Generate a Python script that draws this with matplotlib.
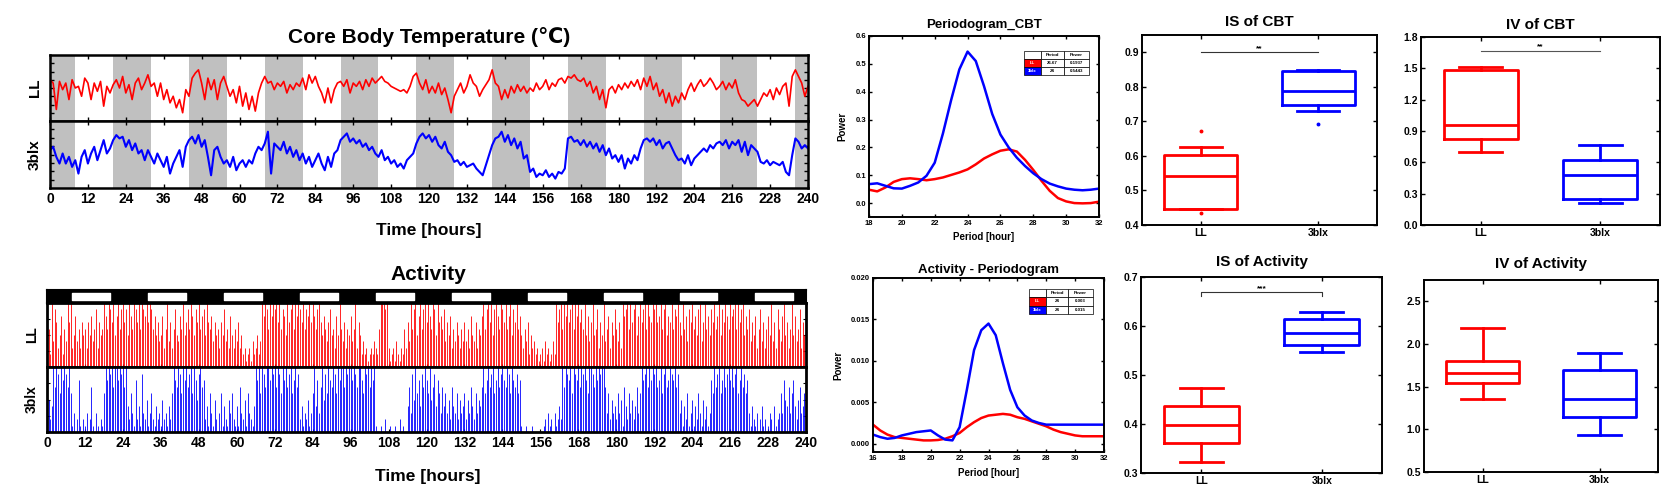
import numpy as np
import matplotlib
matplotlib.use("Agg")
import matplotlib.pyplot as plt

plt.rcParams["font.family"] = ["Liberation Sans", "DejaVu Sans"]
plt.rcParams["font.weight"] = "bold"
plt.rcParams["axes.labelweight"] = "bold"

W, H = 1668, 488
RED = "#ff0000"
BLUE = "#0000ff"
GRAY = "#c0c0c0"

# ---------------- data ----------------
# dark (grey) phases and light phases, hours
dark_start = [0, 20, 44, 68, 92, 116, 140, 164, 188, 212, 236]
dark_end = [8, 32, 56, 80, 104, 128, 152, 176, 200, 224, 240]
light_start = [8, 32, 56, 80, 104, 128, 152, 176, 200, 224]
light_end = [20, 44, 68, 92, 116, 140, 164, 188, 212, 236]

# core body temperature, hourly, deg C
cbt_ll = [
    37.25, 37.15, 36.35, 37.20, 36.95, 37.15, 36.65, 37.25, 37.00, 37.05, 36.75, 37.30,
    37.15, 36.65, 37.15, 36.90, 37.20, 36.45, 37.05, 36.85, 37.10, 37.25, 37.00, 37.35,
    36.85, 37.10, 36.65, 37.15, 37.30, 36.95, 37.15, 37.40, 37.05, 37.15, 36.75, 37.15,
    36.65, 36.95, 36.55, 36.75, 36.40, 36.65, 36.25, 36.95, 36.75, 37.30, 37.45, 37.55,
    37.15, 36.65, 37.30, 36.95, 37.25, 36.65, 37.15, 37.35, 37.05, 36.75, 36.95, 36.55,
    37.05, 36.45, 36.85, 36.35, 36.75, 36.30, 36.85, 37.15, 37.35, 37.15, 37.20, 36.95,
    37.15, 37.05, 37.20, 36.85, 37.10, 36.95, 37.15, 37.05, 37.30, 36.95, 37.40, 37.15,
    37.35, 37.05, 36.85, 36.55, 37.00, 36.55, 36.95, 37.15, 37.20, 37.05, 37.25, 36.85,
    37.15, 37.05, 37.20, 36.95, 37.25, 37.05, 37.30, 37.15, 37.25, 37.35, 37.20, 37.15,
    37.05, 37.00, 36.95, 36.90, 36.95, 36.85, 37.05, 37.35, 37.45, 37.15, 36.95, 37.25,
    36.85, 37.05, 36.85, 37.15, 36.80, 37.00, 36.65, 36.25, 36.75, 36.95, 37.15, 36.85,
    37.05, 37.40, 37.15, 37.05, 36.75, 36.95, 37.10, 37.25, 37.55, 37.15, 37.05, 36.65,
    36.95, 36.70, 37.05, 36.85, 37.10, 36.90, 37.05, 36.85, 37.00, 36.90, 37.15, 36.95,
    37.05, 37.25, 36.95, 37.15, 37.05, 37.25, 37.30, 37.15, 37.35, 37.30, 37.40, 37.25,
    37.20, 37.30, 37.05, 37.20, 36.85, 37.05, 36.65, 36.95, 36.40, 36.95, 37.05, 36.85,
    37.10, 36.95, 37.15, 37.00, 37.20, 37.05, 37.25, 36.95, 37.30, 37.05, 37.35, 36.95,
    37.15, 36.75, 36.95, 36.55, 36.85, 36.45, 36.75, 36.55, 36.85, 36.65, 36.95, 37.15,
    36.90, 37.10, 37.25, 37.05, 37.15, 37.30, 37.15, 36.95, 37.05, 37.20, 36.95, 37.15,
    37.00, 37.25, 36.85, 36.65, 36.60, 36.45, 36.55, 36.65, 36.45, 36.65, 36.85, 36.75,
    36.95, 36.65, 37.00, 36.80, 37.05, 37.15, 36.45, 37.35, 37.55, 37.35, 37.15, 36.75,
    37.05,
]
cbt_3blx = [
    37.13, 37.23, 36.93, 36.73, 37.03, 36.73, 36.93, 36.63, 36.83, 36.43, 36.93, 37.13,
    36.73, 37.03, 37.23, 36.83, 37.13, 37.43, 37.03, 37.18, 37.43, 37.58, 37.48, 37.53,
    37.23, 37.43, 37.13, 37.33, 37.03, 37.13, 36.83, 37.13, 36.93, 36.73, 37.03, 36.83,
    36.63, 36.93, 36.43, 36.73, 36.93, 37.13, 36.63, 37.23, 37.43, 37.53, 37.33, 37.58,
    37.23, 37.43, 36.93, 36.38, 37.13, 37.23, 36.93, 36.73, 36.83, 36.63, 36.93, 36.53,
    36.73, 36.83, 36.63, 36.83, 36.73, 37.03, 37.23, 37.13, 37.33, 37.68, 36.43, 37.33,
    37.23, 37.13, 37.38, 37.03, 37.23, 36.93, 37.13, 36.83, 37.03, 36.73, 36.93, 36.63,
    36.83, 37.03, 36.73, 36.53, 36.93, 36.63, 37.03, 37.13, 37.43, 37.53, 37.63, 37.38,
    37.48, 37.33, 37.43, 37.23, 37.33, 37.13, 37.23, 37.03, 36.93, 37.13, 36.83, 36.93,
    36.73, 36.83, 36.63, 36.73, 36.58, 36.83, 36.93, 37.03, 37.33, 37.53, 37.63, 37.48,
    37.58, 37.38, 37.53, 37.28, 37.18, 37.38, 37.08, 36.98, 36.78, 36.83, 36.68, 36.78,
    36.63, 36.68, 36.73, 36.58, 36.48, 36.38, 36.68, 36.98, 37.28, 37.48, 37.53, 37.68,
    37.38, 37.58, 37.28, 37.48, 37.18, 37.38, 36.88, 36.98, 36.48, 36.58, 36.33, 36.43,
    36.38, 36.53, 36.33, 36.43, 36.28, 36.48, 36.43, 36.58, 37.48, 37.53, 37.38, 37.43,
    37.28, 37.43, 37.23, 37.38, 37.18, 37.33, 37.08, 37.28, 36.98, 37.18, 36.88, 36.98,
    36.78, 36.98, 36.58, 36.88, 36.73, 36.98, 36.83, 37.18, 37.43, 37.48, 37.38, 37.48,
    37.28, 37.43, 37.18, 37.33, 37.38, 37.18, 36.98, 36.83, 36.88, 36.73, 36.98, 36.68,
    36.88, 36.98, 37.08, 37.18, 37.08, 37.28, 37.18, 37.33, 37.38, 37.28, 37.43, 37.18,
    37.38, 37.28, 37.43, 37.08, 37.38, 36.98, 37.28, 37.18, 37.08, 36.78, 36.73, 36.83,
    36.68, 36.78, 36.73, 36.68, 36.78, 36.48, 36.38, 36.98, 37.48, 37.38, 37.18, 37.28,
    37.18,
]

# activity counts per 30 min (percent of panel maximum)
act_ll = [
    30, 60, 20, 100, 40, 90, 70, 30, 50, 80, 20, 60, 40, 100, 70, 100, 30, 50, 80, 40, 60, 30, 70, 50,
    60, 30, 70, 50, 80, 40, 60, 90, 30, 70, 50, 60, 100, 80, 60, 100, 90, 70, 100, 50, 80, 100, 60, 90,
    100, 70, 90, 50, 100, 80, 60, 100, 90, 70, 100, 60, 100, 90, 80, 100, 70, 100, 90, 60, 80, 50, 70, 40,
    50, 80, 30, 60, 100, 40, 70, 30, 60, 90, 50, 40, 80, 60, 100, 50, 70, 90, 60, 100, 80, 50, 90, 70,
    100, 60, 80, 90, 50, 100, 70, 60, 80, 40, 70, 50, 60, 30, 70, 50, 90, 40, 60, 30, 80, 50, 30, 60,
    40, 70, 30, 50, 20, 30, 10, 20, 30, 10, 40, 20, 30, 50, 20, 40, 100, 80, 100, 90, 60, 100, 80, 100,
    90, 100, 70, 100, 60, 90, 80, 50, 100, 70, 90, 100, 60, 100, 80, 100, 90, 70, 100, 60, 90, 80, 100, 70,
    100, 80, 60, 90, 100, 70, 50, 80, 60, 40, 70, 90, 50, 60, 30, 80, 50, 100, 60, 40, 70, 30, 60, 50,
    80, 40, 60, 100, 30, 70, 50, 20, 40, 20, 30, 10, 20, 30, 20, 40, 30, 20, 60, 100, 100, 100, 90, 100,
    30, 10, 20, 30, 10, 40, 20, 10, 30, 20, 60, 30, 70, 40, 100, 60, 90, 100, 50, 80, 100, 60, 90, 100,
    70, 100, 80, 60, 100, 90, 50, 100, 70, 80, 60, 90, 40, 70, 50, 80, 30, 60, 40, 70, 50, 30, 60, 40,
    70, 40, 60, 30, 80, 50, 40, 70, 30, 60, 50, 80, 100, 60, 90, 100, 70, 100, 50, 90, 100, 80, 60, 100,
    90, 70, 100, 60, 80, 100, 50, 90, 70, 100, 60, 80, 50, 30, 60, 40, 70, 20, 50, 30, 40, 20, 30, 10,
    20, 30, 10, 40, 20, 30, 10, 20, 40, 20, 100, 70, 90, 100, 60, 100, 80, 100, 70, 90, 100, 60, 100, 80,
    100, 70, 90, 60, 100, 50, 80, 40, 70, 100, 50, 60, 90, 30, 70, 50, 100, 40, 60, 80, 30, 70, 50, 90,
    60, 40, 70, 30, 100, 80, 90, 100, 60, 100, 70, 90, 100, 50, 80, 100, 70, 90, 100, 60, 100, 80, 70, 100,
    90, 100, 70, 80, 100, 60, 90, 100, 50, 80, 70, 100, 60, 90, 80, 100, 70, 50, 100, 60, 80, 40, 90, 70,
    100, 60, 80, 50, 90, 100, 40, 70, 100, 60, 80, 50, 90, 70, 100, 60, 80, 100, 50, 90, 70, 100, 80, 60,
    100, 80, 90, 100, 60, 100, 70, 90, 100, 50, 80, 60, 90, 40, 70, 50, 80, 30, 60, 90, 40, 70, 30, 60,
    80, 50, 100, 40, 70, 30, 90, 60, 40, 80, 100, 50, 70, 30, 60, 100, 50, 80, 40, 60, 90, 30, 70, 50,
]
act_3blx = [
    30, 50, 20, 40, 100, 70, 100, 90, 60, 100, 80, 100, 90, 70, 100, 60, 10, 30, 0, 20, 80, 10, 0, 20,
    10, 30, 0, 20, 70, 10, 0, 30, 10, 0, 20, 10, 60, 100, 80, 100, 90, 100, 70, 100, 100, 80, 100, 90,
    100, 70, 100, 40, 20, 60, 30, 10, 80, 20, 40, 10, 90, 30, 20, 50, 10, 30, 60, 20, 10, 40, 20, 30,
    10, 50, 20, 30, 10, 40, 20, 60, 100, 80, 70, 100, 90, 60, 100, 80, 100, 70, 90, 100, 60, 100, 80, 50,
    90, 100, 70, 80, 20, 40, 10, 60, 30, 10, 50, 20, 0, 30, 60, 10, 40, 20, 10, 50, 30, 60, 20, 10,
    40, 10, 70, 30, 20, 50, 10, 60, 30, 20, 10, 40, 100, 80, 100, 60, 100, 90, 70, 100, 100, 80, 100, 90,
    100, 70, 100, 90, 60, 100, 80, 100, 70, 90, 100, 60, 80, 100, 70, 90, 20, 40, 10, 30, 20, 50, 10, 30,
    60, 100, 40, 80, 30, 70, 100, 50, 90, 60, 100, 80, 70, 100, 90, 60, 100, 80, 100, 100, 70, 100, 90, 100,
    100, 80, 100, 90, 70, 100, 100, 80, 60, 100, 90, 100, 70, 100, 80, 100, 10, 0, 0, 10, 0, 0, 20, 0,
    0, 10, 0, 0, 10, 0, 0, 20, 0, 10, 0, 0, 40, 70, 30, 90, 50, 100, 60, 80, 40, 90, 70, 100,
    80, 60, 100, 50, 70, 90, 40, 80, 60, 30, 70, 40, 60, 30, 50, 20, 70, 40, 30, 60, 20, 50, 30, 40,
    60, 20, 50, 30, 70, 40, 20, 60, 30, 50, 40, 70, 100, 60, 80, 100, 70, 90, 100, 60, 80, 100, 70, 90,
    100, 80, 70, 100, 90, 60, 100, 80, 70, 90, 60, 80, 10, 0, 0, 10, 0, 0, 0, 10, 0, 0, 0, 0,
    0, 0, 10, 20, 0, 30, 10, 20, 0, 30, 10, 20, 40, 20, 100, 70, 100, 90, 80, 100, 60, 100, 90, 80,
    100, 70, 100, 90, 100, 80, 60, 100, 100, 90, 70, 100, 80, 100, 90, 100, 100, 70, 30, 60, 20, 50, 30, 40,
    20, 60, 30, 50, 10, 70, 40, 20, 60, 30, 50, 20, 40, 70, 30, 60, 100, 80, 90, 100, 70, 100, 80, 100,
    90, 100, 70, 80, 100, 60, 90, 100, 70, 80, 100, 90, 80, 100, 70, 90, 30, 50, 10, 40, 20, 60, 10, 30,
    50, 10, 40, 20, 60, 30, 10, 50, 20, 40, 10, 30, 80, 60, 100, 70, 90, 100, 60, 80, 100, 70, 90, 100,
    80, 100, 70, 90, 100, 60, 80, 100, 70, 90, 60, 80, 30, 10, 40, 20, 10, 30, 0, 20, 40, 10, 20, 0,
    10, 30, 20, 0, 40, 10, 20, 30, 60, 30, 80, 50, 40, 70, 30, 60, 80, 40, 20, 50, 70, 30, 40, 60,
]

# periodograms
pg_cbt_ll = [0.048, 0.042, 0.056, 0.076, 0.086, 0.089, 0.086, 0.082, 0.086, 0.092, 0.101, 0.110,
             0.121, 0.139, 0.160, 0.175, 0.188, 0.193, 0.185, 0.155, 0.119, 0.080, 0.044, 0.018,
             0.006, 0.000, -0.001, 0.000, 0.005]
pg_cbt_3blx = [0.068, 0.071, 0.062, 0.053, 0.052, 0.062, 0.074, 0.098, 0.145, 0.250, 0.370, 0.480,
               0.544, 0.510, 0.420, 0.320, 0.246, 0.200, 0.163, 0.133, 0.107, 0.086, 0.070, 0.060,
               0.052, 0.048, 0.046, 0.048, 0.052]
pg_act_ll = [0.0023, 0.0016, 0.0011, 0.0008, 0.0007, 0.0006, 0.0005, 0.0004, 0.0004, 0.00045, 0.0006,
             0.0009, 0.0013, 0.0020, 0.0026, 0.0031, 0.0034, 0.0035, 0.0036, 0.0035, 0.0032, 0.0030,
             0.0027, 0.0024, 0.0021, 0.0017, 0.0014, 0.0012, 0.0010, 0.0009, 0.0009, 0.0009, 0.0009]
pg_act_3blx = [0.0011, 0.0008, 0.0006, 0.0007, 0.0010, 0.0012, 0.0014, 0.0015, 0.0016, 0.0010, 0.0005,
               0.0004, 0.0020, 0.0065, 0.0113, 0.0137, 0.0145, 0.0131, 0.0097, 0.0065, 0.0044, 0.0034,
               0.0028, 0.0025, 0.0023, 0.0023, 0.0023, 0.0023, 0.0023, 0.0023, 0.0023, 0.0023, 0.0023]
tab_cbt = [["", "Period", "Power"], ["LL", "26.67", "0.1937"], ["3blx", "24", "0.5443"]]
tab_act = [["", "Period", "Power"], ["LL", "24", "0.003"], ["3blx", "24", "0.015"]]

# box plots: [whislo, q1, med, q3, whishi]
groups = ["LL", "3blx"]
is_cbt_ll, is_cbt_ll_fl = [0.447, 0.447, 0.543, 0.603, 0.625], [0.434, 0.671]
is_cbt_bl, is_cbt_bl_fl = [0.729, 0.748, 0.787, 0.847, 0.850], [0.692]
iv_cbt_ll, iv_cbt_ll_fl = [0.698, 0.828, 0.958, 1.485, 1.515], []
iv_cbt_bl, iv_cbt_bl_fl = [0.210, 0.250, 0.480, 0.623, 0.770], []
is_act_ll, is_act_ll_fl = [0.322, 0.362, 0.398, 0.436, 0.474], []
is_act_bl, is_act_bl_fl = [0.546, 0.562, 0.586, 0.615, 0.628], []
iv_act_ll, iv_act_ll_fl = [1.35, 1.54, 1.66, 1.80, 2.19], []
iv_act_bl, iv_act_bl_fl = [0.93, 1.15, 1.36, 1.70, 1.90], []

hours = np.arange(len(cbt_ll))
act_t = np.arange(len(act_ll)) * 0.5

fig = plt.figure(figsize=(W / 100, H / 100), dpi=100)


def px_axes(left, top, right, bottom):
    return fig.add_axes([left / W, 1 - bottom / H, (right - left) / W, (bottom - top) / H])


def frame(ax, lw=1.6):
    for sp in ax.spines.values():
        sp.set_linewidth(lw)


def fig_text(x, y, s, size, rot=0):
    fig.text(x / W, 1 - y / H, s, ha="center", va="center", fontsize=size,
             fontweight="bold", rotation=rot)


# ---------------- core body temperature ----------------
for top, bot, vals, col, lw, lab in [(55, 121, cbt_ll, RED, 1.2, "LL"),
                                     (121, 188, cbt_3blx, BLUE, 1.5, "3blx")]:
    ax = px_axes(50, top, 808, bot)
    for s, e in zip(dark_start, dark_end):
        ax.axvspan(s, e, color=GRAY, lw=0)
    ax.plot(hours, vals, color=col, lw=lw)
    ax.set_xlim(0, 240)
    ax.set_ylim(36.0, 38.0)
    ax.set_xticks(range(0, 241, 12))
    ax.set_yticks([36.25, 36.5, 36.75, 37.0, 37.25, 37.5, 37.75])
    ax.tick_params(direction="in", top=True, right=True, length=3, width=1,
                   labelleft=False, labelbottom=(lab == "3blx"), labelsize=10, pad=3)
    ax.set_ylabel(lab, fontsize=11, labelpad=6)
    frame(ax, 1.8)

fig_text(429, 37, "Core Body Temperature (\u2103)", 15)
fig_text(429, 230, "Time [hours]", 12.5)

# ---------------- activity ----------------
ax = px_axes(47, 290, 806, 303)
ax.set_facecolor("black")
ax.broken_barh([(s, e - s) for s, e in zip(light_start, light_end)], (0.22, 0.56),
               color="white")
ax.set_xlim(0, 240)
ax.set_ylim(0, 1)
ax.set_xticks([])
ax.set_yticks([])
frame(ax, 1.5)

for top, bot, vals, col, lab in [(303, 367, act_ll, RED, "LL"), (367, 432, act_3blx, BLUE, "3blx")]:
    ax = px_axes(47, top, 806, bot)
    ax.vlines(act_t, 0, vals, color=col, lw=0.6)
    ax.set_xlim(0, 240)
    ax.set_ylim(0, 100)
    ax.set_xticks(range(0, 241, 12))
    ax.set_yticks([25, 50, 75])
    ax.tick_params(direction="in", right=True, length=2.5, width=0.8, labelleft=False,
                   labelbottom=(lab == "3blx"), labelsize=10, pad=3)
    ax.set_ylabel(lab, fontsize=10, labelpad=6)
    frame(ax, 2.0)

fig_text(428, 275, "Activity", 15)
fig_text(428, 477, "Time [hours]", 12.5)


# ---------------- periodograms ----------------
def periodogram(box, per, y_ll, y_bl, xlim, ylim, yticks, yfmt, xticks, tab, tbox, title, title_y, xl_y, yl_x):
    ax = px_axes(*box)
    ax.plot(per, y_ll, color=RED, lw=1.8)
    ax.plot(per, y_bl, color=BLUE, lw=1.8)
    ax.set_xlim(*xlim)
    ax.set_ylim(*ylim)
    ax.set_xticks(xticks)
    ax.set_yticks(yticks)
    ax.set_yticklabels([yfmt % v for v in yticks])
    ax.tick_params(direction="in", top=True, right=True, length=2.5, width=1, labelsize=5.5, pad=2)
    frame(ax, 1.4)
    tbl = ax.table(cellText=tab, bbox=tbox, colWidths=[17, 23, 25], cellLoc="center")
    tbl.auto_set_font_size(False)
    tbl.set_fontsize(3.2)
    for (r, c), cell in tbl.get_celld().items():
        cell.set_linewidth(0.5)
        if c == 0 and r > 0:
            cell.set_facecolor(RED if r == 1 else BLUE)
            cell.get_text().set_color("white")
    cx = (box[0] + box[2]) / 2
    fig_text(cx, title_y, title, 9.5)
    fig_text(cx, xl_y, "Period [hour]", 7)
    fig_text(yl_x, (box[1] + box[3]) / 2, "Power", 7, rot=90)


periodogram((869, 36, 1099, 217), np.arange(18, 32.01, 0.5), pg_cbt_ll, pg_cbt_3blx,
            (18, 32), (-0.05, 0.6), [0.0, 0.1, 0.2, 0.3, 0.4, 0.5, 0.6], "%.1f",
            range(18, 33, 2), tab_cbt, [0.674, 0.785, 0.283, 0.132],
            "Periodogram_CBT", 25, 237, 842)
periodogram((873, 278, 1104, 452), np.arange(16, 32.01, 0.5), pg_act_ll, pg_act_3blx,
            (16, 32), (-0.001, 0.020), [0.0, 0.005, 0.010, 0.015, 0.020], "%.3f",
            range(16, 33, 2), tab_act, [0.675, 0.793, 0.277, 0.144],
            "Activity - Periodogram", 270, 473, 838)


# ---------------- box plots ----------------
def box_panel(box, s_ll, f_ll, s_bl, f_bl, ylim, yticks, yfmt, title, title_y, sig=None):
    ax = px_axes(*box)
    stats = []
    for lab, s, f in [(groups[0], s_ll, f_ll), (groups[1], s_bl, f_bl)]:
        stats.append(dict(label=lab, whislo=s[0], q1=s[1], med=s[2], q3=s[3], whishi=s[4], fliers=f))
    bp = ax.bxp(stats, positions=[1, 2], widths=0.62, capwidths=0.36, showfliers=True)
    for i, col in enumerate([RED, BLUE]):
        for art in [bp["boxes"][i], bp["medians"][i], bp["whiskers"][2 * i], bp["whiskers"][2 * i + 1],
                    bp["caps"][2 * i], bp["caps"][2 * i + 1]]:
            art.set_color(col)
            art.set_linewidth(2.0)
        bp["fliers"][i].set(marker="o", markersize=1.8, markerfacecolor=col, markeredgecolor=col)
    ax.set_xlim(0.5, 2.5)
    ax.set_ylim(*ylim)
    ax.set_yticks(yticks)
    ax.set_yticklabels([yfmt % v for v in yticks])
    ax.tick_params(direction="in", top=True, right=True, length=3, width=1, labelsize=7.5, pad=2)
    frame(ax, 1.4)
    if sig is not None:
        y, txt, col, bracket = sig
        if bracket:
            ax.plot([1, 1, 2, 2], [y - 0.007, y, y, y - 0.007], color=col, lw=0.8)
        else:
            ax.plot([1, 2], [y, y], color=col, lw=0.8)
        ax.text(1.5, y, txt, ha="center", va="bottom", fontsize=6)
    fig_text((box[0] + box[2]) / 2, title_y, title, 11)


box_panel((1142, 35, 1377, 225), is_cbt_ll, is_cbt_ll_fl, is_cbt_bl, is_cbt_bl_fl,
          (0.4, 0.95), [0.4, 0.5, 0.6, 0.7, 0.8, 0.9], "%.1f", "IS of CBT", 22,
          (0.9, "**", "#333333", False))
box_panel((1421, 37, 1660, 225), iv_cbt_ll, iv_cbt_ll_fl, iv_cbt_bl, iv_cbt_bl_fl,
          (0.0, 1.8), [0.0, 0.3, 0.6, 0.9, 1.2, 1.5, 1.8], "%.1f", "IV of CBT", 25,
          (1.67, "**", "#555555", False))
box_panel((1141, 277, 1382, 473), is_act_ll, is_act_ll_fl, is_act_bl, is_act_bl_fl,
          (0.3, 0.7), [0.3, 0.4, 0.5, 0.6, 0.7], "%.1f", "IS of Activity", 262,
          (0.669, "***", "#333333", True))
box_panel((1424, 280, 1658, 472), iv_act_ll, iv_act_ll_fl, iv_act_bl, iv_act_bl_fl,
          (0.5, 2.75), [0.5, 1.0, 1.5, 2.0, 2.5], "%.1f", "IV of Activity", 264)

fig.savefig("out.png", dpi=100)
